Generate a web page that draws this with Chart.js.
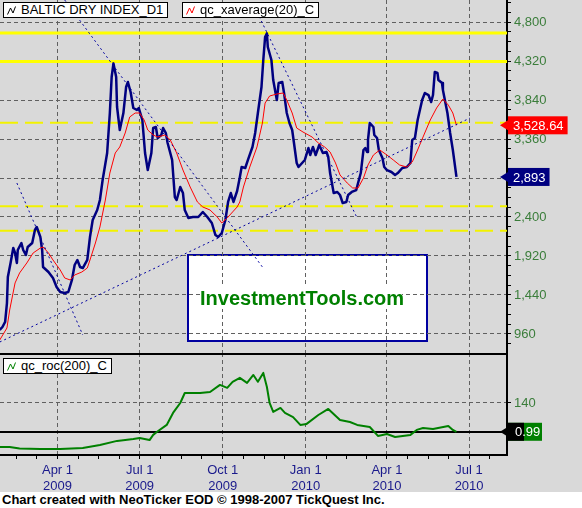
<!DOCTYPE html>
<html>
<head>
<meta charset="utf-8">
<script src="https://cdn.jsdelivr.net/npm/chart.js@4.4.1/dist/chart.umd.min.js"></script>
<style>
  body { margin: 0; width: 582px; height: 508px; overflow: hidden; background: #fff;
         font-family: 'Liberation Sans', Arial, sans-serif; }
  #panel { position: absolute; left: 0; top: 0; width: 582px; height: 492px; background: #d9d9d9; }
  canvas { position: absolute; left: 0; z-index: 1; }
  #top { top: 0; }
  #bottom { top: 353px; }
  .legend { position: absolute; z-index: 3; background: #fff; border: 1px solid #000; height: 14px;
            line-height: 14px; font-size: 13px; padding: 0 4px 0 3px; white-space: nowrap; color: #000; }
  .legend svg { vertical-align: -1px; margin-right: 5px; }
  #wmbox { position: absolute; z-index: 0; left: 187px; top: 254px; width: 237px; height: 84px;
           background: #fff; border: 2px solid #0000a0; }
  #wmtext { position: absolute; z-index: 2; left: 200px; top: 287px; width: 202px; height: 22px;
            line-height: 22px; background: #fff; color: #008000; font-weight: bold; font-size: 20px;
            white-space: nowrap; }
  #footer { position: absolute; left: 2px; top: 492px; font-size: 13px; font-weight: bold;
            line-height: 16px; color: #000; white-space: nowrap; }
</style>
</head>
<body>
<div id="panel"></div>
<div id="wmbox"></div>
<canvas id="top" width="582" height="353"></canvas>
<canvas id="bottom" width="582" height="139"></canvas>
<div id="wmtext">InvestmentTools.com</div>
<div class="legend" style="left:3px;top:2px"><svg width="9" height="9"><polyline points="0.5,8.5 3.5,2 6,7 8.5,0.5" fill="none" stroke="#000"/></svg>BALTIC DRY INDEX_D1</div>
<div class="legend" style="left:182px;top:2px"><svg width="9" height="9"><polyline points="0.5,8.5 3.5,2 6,7 8.5,0.5" fill="none" stroke="#f00"/></svg>qc_xaverage(20)_C</div>
<div class="legend" style="left:3px;top:358px"><svg width="9" height="9"><polyline points="0.5,8.5 3.5,2 6,7 8.5,0.5" fill="none" stroke="#008000"/></svg>qc_roc(200)_C</div>
<div id="footer">Chart created with NeoTicker EOD © 1998-2007 TickQuest Inc.</div>
<script>
// x values are days counted from Jan 1 2009
const bdiDays = [26,29,32,34,35,38,41,43,45,46,50,52,55,57,62,65,67,71,73,74,80,85,89,93,98,102,106,109,112,115,118,123,126,129,134,137,140,145,148,150,152,155,156,159,163,166,168,171,174,178,180,184,187,190,194,196,199,201,205,207,210,212,217,220,222,226,229,231,235,240,246,251,256,261,265,268,272,276,279,282,285,289,292,294,298,301,306,309,312,316,318,320,322,323,327,329,333,335,339,341,344,347,350,352,355,357,361,364,368,370,373,376,380,384,388,390,392,394,396,400,403,406,410,412,416,421,423,426,429,431,433,434,436,440,441,444,446,450,452,455,460,464,467,472,477,481,483,486,489,494,497,501,504,506,508,511,512,516,517,522,525,528,532];
const bdiValues = [1009,1046,1108,1341,1661,1834,2018,1957,1834,1994,2080,1994,1932,2031,2080,2240,2277,2154,1994,1785,1723,1649,1538,1477,1464,1477,1625,1809,1871,1785,1772,1871,2154,2363,2486,2609,2855,3188,3680,4123,4291,4123,3754,3471,3680,4000,4062,3938,3742,3717,3742,3594,3188,2978,3188,3495,3508,3372,3409,3495,3434,3311,3102,2646,2609,2769,2695,2486,2388,2400,2400,2462,2400,2326,2178,2154,2203,2363,2585,2695,2585,2720,2890,3015,3003,3102,3262,3434,3680,4000,4332,4615,4661,4492,4332,4086,3840,4049,4062,3926,3680,3557,3471,3311,3065,3015,3065,3102,3249,3163,3262,3163,3286,3188,3200,3138,2941,2818,2695,2708,2671,2572,2585,2671,2708,2732,2818,2941,3225,3249,3200,3348,3557,3508,3409,3372,3225,3126,3015,2978,2954,2917,2941,3003,3015,3065,3348,3372,3594,3840,3926,3901,3815,3901,4185,4172,4086,4049,3963,3680,3434,3225,2893];

const emaDays = [26,34,37,43,48,56,63,71,74,80,85,93,98,104,109,117,123,126,132,137,143,148,154,159,165,170,176,181,186,190,196,201,209,215,222,229,237,245,251,259,267,272,278,284,289,292,296,303,311,317,320,325,333,340,344,350,355,362,372,379,386,392,398,403,411,417,423,429,434,440,447,455,462,469,477,483,488,495,503,510,517,523,528,532];
const emaValues = [886,1034,1255,1588,1711,1834,1957,2018,2031,1957,1871,1748,1649,1625,1686,1723,1772,1871,2080,2277,2609,2941,3188,3262,3434,3631,3680,3680,3594,3471,3409,3385,3409,3348,3188,2978,2769,2585,2523,2486,2400,2326,2388,2462,2523,2585,2769,3015,3262,3557,3803,3889,3914,3926,3840,3680,3495,3446,3385,3311,3262,3200,3065,2917,2818,2757,2757,2880,3040,3163,3225,3163,3102,3040,3015,3077,3200,3385,3594,3742,3852,3778,3680,3528.64];

const rocDays = [26,37,48,71,93,118,137,156,174,181,192,196,200,211,218,226,231,248,259,270,278,284,292,300,307,312,318,322,325,329,337,342,351,359,366,379,390,403,414,422,436,445,455,464,481,488,495,506,523,528,532];
const rocValues = [-72,-72,-80,-82,-82,-77,-63,-43,-34,-29,-39,-14,0,34,92,140,188,188,193,227,213,242,261,237,275,242,285,217,140,97,116,92,72,34,39,82,111,58,48,34,24,-19,-10,-24,-14,10,19,14,29,10,0.99];

const solidLevels = [4665, 4315];
const dashedLevels = [3561, 2531, 2231];
const zeroLevel = [0];

const trendStartDays = [26, 98, 45, 311];
const trendStartValues = [861, 5071, 2818, 4923];
const trendEndDays = [547, 317, 118, 422];
const trendEndValues = [3618, 1785, 948, 2388];

const quarterDays = [90, 181, 273, 365, 455, 546];
const quarterLabels = [['Apr 1', '2009'], ['Jul 1', '2009'], ['Oct 1', '2009'], ['Jan 1', '2010'], ['Apr 1', '2010'], ['Jul 1', '2010']];
const priceTicks = [960, 1440, 1920, 2400, 2880, 3360, 3840, 4320, 4800];
const rocTicks = [140];

const dayMin = 26.3, dayMax = 588;
const family = "'Liberation Sans', Arial, sans-serif";
const gridGray = '#606060';

Chart.defaults.font.family = family;
Chart.defaults.font.size = 13;

const pts = (xs, ys) => xs.map((x, i) => ({ x, y: ys[i] }));
const level = v => [{ x: dayMin, y: v }, { x: dayMax, y: v }];
const noPad = s => { s.paddingTop = 0; s.paddingBottom = 0; s.paddingLeft = 0; s.paddingRight = 0; };

function buildDayTicks(scale) {
  const n = quarterDays.length;
  const step = (quarterDays[n - 1] - quarterDays[0]) / ((n - 1) * 4);
  const vals = [];
  for (let v = quarterDays[0] - step; v >= scale.min; v -= step) vals.unshift(v);
  quarterDays.forEach((d, i) => {
    vals.push(d);
    const next = quarterDays[i + 1];
    if (next !== undefined) for (let k = 1; k < 4; k++) vals.push(d + (next - d) * k / 4);
  });
  for (let v = quarterDays[n - 1] + step; v <= scale.max; v += step) vals.push(v);
  scale.ticks = vals.map(value => ({ value }));
}

// price tag boxes at the right axis
function drawTag(ctx, x0, py, text, color) {
  ctx.font = '13px ' + family;
  const w = ctx.measureText(text).width + 9;
  ctx.fillStyle = color;
  ctx.beginPath();
  ctx.moveTo(x0 - 8, py);
  ctx.lineTo(x0, py - 5);
  ctx.lineTo(x0, py + 5);
  ctx.closePath();
  ctx.fill();
  ctx.fillRect(x0, py - 9, w, 18);
  ctx.fillStyle = '#fff';
  ctx.textBaseline = 'middle';
  ctx.textAlign = 'left';
  ctx.fillText(text, x0 + 5, py + 1);
}

const topTags = {
  id: 'topTags',
  afterDraw(chart) {
    const { ctx, chartArea, scales: { y } } = chart;
    const lastEma = emaValues[emaValues.length - 1];
    const lastBdi = bdiValues[bdiValues.length - 1];
    ctx.save();
    drawTag(ctx, chartArea.right + 1, y.getPixelForValue(lastEma),
      lastEma.toLocaleString('en-US', { minimumFractionDigits: 2 }), '#ff0000');
    drawTag(ctx, chartArea.right + 1, y.getPixelForValue(lastBdi),
      lastBdi.toLocaleString('en-US'), '#000080');
    ctx.restore();
  }
};

const bottomTags = {
  id: 'bottomTags',
  afterDraw(chart) {
    const { ctx, chartArea, scales: { y } } = chart;
    const lastRoc = rocValues[rocValues.length - 1];
    const py = y.getPixelForValue(lastRoc);
    const x0 = chartArea.right + 1;
    ctx.save();
    ctx.fillStyle = '#008000';
    ctx.fillRect(x0, py - 9, 34, 18);
    ctx.fillStyle = '#000';
    ctx.beginPath();
    ctx.moveTo(x0 - 8, py);
    ctx.lineTo(x0, py - 5);
    ctx.lineTo(x0, py + 5);
    ctx.closePath();
    ctx.fill();
    ctx.fillRect(x0, py - 9, 16, 18);
    ctx.fillStyle = '#fff';
    ctx.font = '13px ' + family;
    ctx.textBaseline = 'middle';
    ctx.fillText(lastRoc.toFixed(2), x0 + 7, py + 1);
    // panel separator line
    ctx.fillStyle = '#000';
    ctx.fillRect(0, chartArea.top, chartArea.right, 2);
    ctx.restore();
  }
};

const lineDefaults = { pointRadius: 0, tension: 0, fill: false, borderJoinStyle: 'round' };

const topDatasets = [];
trendStartDays.forEach((d, i) => {
  topDatasets.push({ ...lineDefaults, data: [{ x: d, y: trendStartValues[i] }, { x: trendEndDays[i], y: trendEndValues[i] }],
    borderColor: '#0000a0', borderWidth: 1, borderDash: [2, 3], order: 0 });
});
topDatasets.push({ ...lineDefaults, label: 'qc_xaverage(20)_C', data: pts(emaDays, emaValues),
  borderColor: '#ff0000', borderWidth: 1, order: 1 });
topDatasets.push({ ...lineDefaults, label: 'BALTIC DRY INDEX_D1', data: pts(bdiDays, bdiValues),
  borderColor: '#000080', borderWidth: 2.5, order: 2 });
solidLevels.forEach(v => topDatasets.push({ ...lineDefaults, data: level(v), borderColor: '#ffff00', borderWidth: 3, order: 3 }));
dashedLevels.forEach(v => topDatasets.push({ ...lineDefaults, data: level(v), borderColor: '#f2f200', borderWidth: 2, borderDash: [18, 7], order: 3 }));

new Chart(document.getElementById('top'), {
  type: 'line',
  data: { datasets: topDatasets },
  options: {
    responsive: false,
    animation: false,
    devicePixelRatio: 1,
    layout: { padding: 0 },
    plugins: { legend: { display: false }, tooltip: { enabled: false } },
    scales: {
      x: {
        type: 'linear', min: dayMin, max: dayMax,
        afterBuildTicks: s => { s.ticks = quarterDays.map(value => ({ value })); },
        ticks: { display: false },
        grid: { color: gridGray, drawTicks: false },
        border: { display: false, dash: [4, 3] },
        afterFit: s => { s.height = 0; noPad(s); }
      },
      y: {
        position: 'right', min: 726, max: 5071,
        afterBuildTicks: s => {
          const t = [];
          for (let v = 840; v <= 5040; v += 120) t.push({ value: v });
          s.ticks = t;
        },
        ticks: {
          autoSkip: false, color: '#3a7d3a', padding: 3,
          callback: v => priceTicks.includes(v) ? v.toLocaleString('en-US') : ''
        },
        grid: {
          color: c => priceTicks.includes(c.tick.value) ? gridGray : 'rgba(0,0,0,0)',
          tickColor: '#000', tickLength: 4, tickBorderDash: []
        },
        border: { color: '#000', width: 2, dash: [4, 3] },
        afterFit: s => { s.width = 75; noPad(s); }
      }
    }
  },
  plugins: [topTags]
});

new Chart(document.getElementById('bottom'), {
  type: 'line',
  data: {
    datasets: [
      { ...lineDefaults, label: 'qc_roc(200)_C', data: pts(rocDays, rocValues), borderColor: '#008000', borderWidth: 2, order: 0 },
      { ...lineDefaults, data: level(zeroLevel[0]), borderColor: '#000', borderWidth: 2, order: 1 }
    ]
  },
  options: {
    responsive: false,
    animation: false,
    devicePixelRatio: 1,
    layout: { padding: 0 },
    plugins: { legend: { display: false }, tooltip: { enabled: false } },
    scales: {
      x: {
        type: 'linear', min: dayMin, max: dayMax,
        afterBuildTicks: buildDayTicks,
        ticks: {
          autoSkip: false, maxRotation: 0, color: '#1a1a8c', padding: 3,
          font: { size: 13, lineHeight: 1.25 },
          callback: v => { const i = quarterDays.indexOf(v); return i >= 0 ? quarterLabels[i] : ''; }
        },
        grid: {
          color: c => quarterDays.includes(c.tick.value) ? gridGray : 'rgba(0,0,0,0)',
          tickColor: '#000', tickLength: 4, tickBorderDash: []
        },
        border: { color: '#000', width: 2, dash: [4, 3] },
        afterFit: s => { s.height = 37; noPad(s); }
      },
      y: {
        position: 'right', min: -111, max: 381,
        afterBuildTicks: s => { s.ticks = rocTicks.map(value => ({ value })); },
        ticks: { autoSkip: false, color: '#3a7d3a', padding: 3 },
        grid: { color: gridGray, tickColor: '#000', tickLength: 4, tickBorderDash: [] },
        border: { color: '#000', width: 2, dash: [4, 3] },
        afterFit: s => { s.width = 75; noPad(s); }
      }
    }
  },
  plugins: [bottomTags]
});
</script>
</body>
</html>
